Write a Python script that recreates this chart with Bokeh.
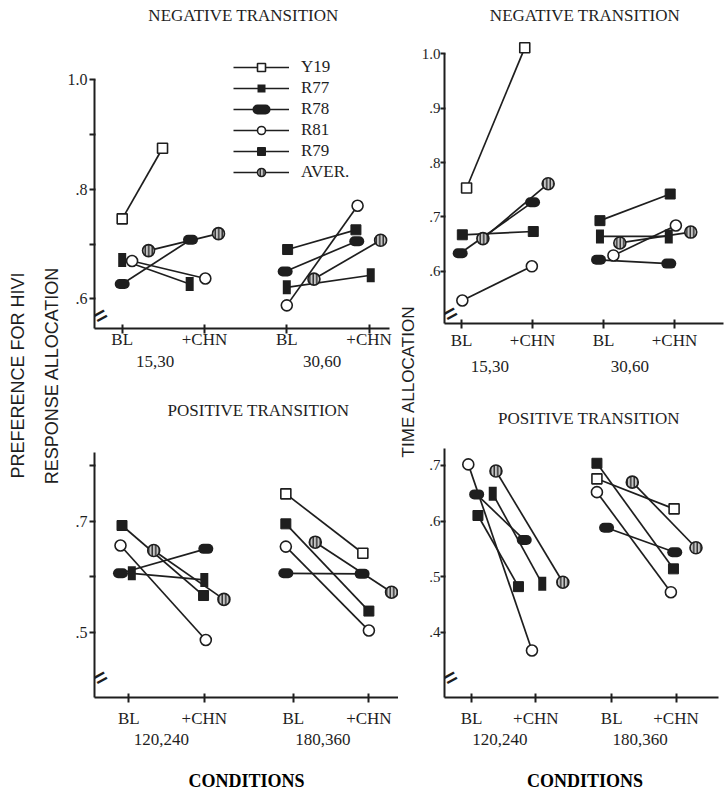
import math
from bokeh.plotting import figure
from bokeh.models import LinearAxis, FixedTicker, Range1d, Label, Legend, LegendItem
from bokeh.layouts import row, column
from bokeh.embed import file_html
from bokeh.resources import INLINE

nan = float("nan")

SUBJECTS = ["Y19", "R77", "R78", "R81", "R79", "AVER."]

# value order in every array: [BL grp1, +CHN grp1, BL grp2, +CHN grp2]
# NEGATIVE TRANSITION - response allocation (top left)
nr_Y19_x = [0.00, 0.49, nan, nan]
nr_Y19_y = [0.746, 0.875, nan, nan]
nr_R77_x = [0.00, 0.82, 2.00, 3.02]
nr_R77_y = [0.671, 0.627, 0.621, 0.643]
nr_R78_x = [0.00, 0.83, 1.98, 2.85]
nr_R78_y = [0.627, 0.708, 0.650, 0.705]
nr_R81_x = [0.12, 1.01, 2.00, 2.86]
nr_R81_y = [0.669, 0.637, 0.588, 0.770]
nr_R79_x = [nan, nan, 2.01, 2.84]
nr_R79_y = [nan, nan, 0.690, 0.726]
nr_AVE_x = [0.32, 1.17, 2.33, 3.14]
nr_AVE_y = [0.688, 0.719, 0.636, 0.707]

# NEGATIVE TRANSITION - time allocation (top right)
nt_Y19_x = [0.07, 0.89, nan, nan]
nt_Y19_y = [0.753, 1.011, nan, nan]
nt_R77_x = [nan, nan, 1.95, 2.92]
nt_R77_y = [nan, nan, 0.664, 0.664]
nt_R78_x = [-0.02, 1.00, 1.93, 2.92]
nt_R78_y = [0.633, 0.727, 0.621, 0.614]
nt_R81_x = [0.01, 0.99, 2.14, 3.02]
nt_R81_y = [0.546, 0.609, 0.629, 0.684]
nt_R79_x = [0.01, 1.01, 1.95, 2.94]
nt_R79_y = [0.667, 0.673, 0.693, 0.742]
nt_AVE_x = [0.30, 1.22, 2.23, 3.23]
nt_AVE_y = [0.660, 0.761, 0.652, 0.672]

# POSITIVE TRANSITION - response allocation (bottom left)
pr_Y19_x = [nan, nan, 2.08, 3.10]
pr_Y19_y = [nan, nan, 0.749, 0.642]
pr_R77_x = [0.04, 1.00, nan, nan]
pr_R77_y = [0.606, 0.594, nan, nan]
pr_R78_x = [-0.11, 1.02, 2.08, 3.09]
pr_R78_y = [0.606, 0.650, 0.606, 0.605]
pr_R81_x = [-0.11, 1.02, 2.08, 3.18]
pr_R81_y = [0.656, 0.486, 0.654, 0.503]
pr_R79_x = [-0.09, 0.99, 2.08, 3.18]
pr_R79_y = [0.692, 0.566, 0.695, 0.538]
pr_AVE_x = [0.33, 1.26, 2.47, 3.48]
pr_AVE_y = [0.647, 0.559, 0.662, 0.572]

# POSITIVE TRANSITION - time allocation (bottom right)
pt_Y19_x = [nan, nan, 1.95, 3.15]
pt_Y19_y = [nan, nan, 0.676, 0.622]
pt_R77_x = [0.33, 1.10, nan, nan]
pt_R77_y = [0.649, 0.487, nan, nan]
pt_R78_x = [0.08, 0.82, 2.10, 3.16]
pt_R78_y = [0.648, 0.566, 0.588, 0.544]
pt_R81_x = [-0.05, 0.94, 1.95, 3.10]
pt_R81_y = [0.702, 0.367, 0.652, 0.472]
pt_R79_x = [0.10, 0.73, 1.95, 3.14]
pt_R79_y = [0.610, 0.482, 0.704, 0.514]
pt_AVE_x = [0.38, 1.42, 2.50, 3.49]
pt_AVE_y = [0.690, 0.490, 0.670, 0.552]

# axes
cond_labels = ["BL", "+CHN", "BL", "+CHN"]
top_cond_x = [0, 1, 2, 3]
bottom_cond_x = [0, 1, 2.18, 3.18]
neg_groups = ["15,30", "30,60"]
pos_groups = ["120,240", "180,360"]
tl_group_x = [0.40, 2.43]
tr_group_x = [0.40, 2.37]
bl_group_x = [0.43, 2.57]
br_group_x = [0.44, 2.62]
tl_yticks = [0.6, 0.7, 0.8, 0.9, 1.0]
tl_ylabels = [".6", "", ".8", "", "1.0"]
tr_yticks = [0.6, 0.7, 0.8, 0.9, 1.0]
tr_ylabels = [".6", ".7", ".8", ".9", "1.0"]
bl_yticks = [0.5, 0.6, 0.7, 0.8]
bl_ylabels = [".5", "", ".7", ""]
br_yticks = [0.4, 0.5, 0.6, 0.7]
br_ylabels = [".4", ".5", ".6", ".7"]

SERIF = "Liberation Serif"
SANS = "Liberation Sans"
INK = "#1e1e1e"

MARKER_STYLE = {
    "Y19": dict(marker="square", size=10, fill_color="white", line_color=INK, line_width=1.6),
    "R77": dict(marker="dash", size=14, angle=math.pi / 2, line_color=INK, line_width=8, line_cap="butt"),
    "R78": dict(marker="dash", size=5, line_color=INK, line_width=10, line_cap="round"),
    "R81": dict(marker="circle", size=11, fill_color="white", line_color=INK, line_width=1.6),
    "R79": dict(marker="square", size=10, fill_color=INK, line_color=INK, line_width=1),
    "AVER.": dict(marker="circle", size=12, fill_color="#c4c4c4", line_color=INK, line_width=1.6,
                  hatch_pattern="|", hatch_color=INK, hatch_scale=3.5, hatch_weight=1.3),
}


def make_panel(fig_box, frame_box, xmap, ymap, series, yticks, ylabels, ytop, xticks,
               xaxis_end_px, group_x, group_labels, title, title_px, break_py,
               x_standoff, g_standoff, ytick_size="16px", ytick_out=5, ystand=2,
               cond_center_px=None, legend_loc=None):
    fl, ft, fr, fb = fig_box
    l, t, r, b = frame_box
    x0px, xunit = xmap
    yref, yrefpx, yunit = ymap

    def px2x(px):
        return (px - x0px) / xunit

    def py2y(py):
        return yref + (yrefpx - py) / yunit

    p = figure(width=fr - fl, height=fb - ft,
               x_range=Range1d(px2x(l), px2x(r)), y_range=Range1d(py2y(b), py2y(t)),
               x_axis_type=None, y_axis_type=None, toolbar_location=None,
               output_backend="svg", title=None)
    p.min_border_left = l - fl
    p.min_border_right = fr - r
    p.min_border_top = t - ft
    p.min_border_bottom = fb - b
    p.outline_line_color = None
    p.background_fill_color = "white"
    p.border_fill_color = "white"
    p.grid.visible = False

    # y axis
    yax = LinearAxis(ticker=FixedTicker(ticks=yticks),
                     major_label_overrides=dict(zip(yticks, ylabels)),
                     bounds=(p.y_range.start, ytop))
    yax.axis_line_width = 2
    yax.axis_line_color = INK
    yax.major_tick_line_width = 2
    yax.major_tick_line_color = INK
    yax.major_tick_out = ytick_out
    yax.major_tick_in = 1
    yax.minor_tick_out = 0
    yax.minor_tick_in = 0
    yax.major_label_standoff = ystand
    yax.major_label_text_font = SERIF
    yax.major_label_text_font_size = ytick_size
    yax.major_label_text_color = INK
    p.add_layout(yax, "left")

    # x axis with conditions
    xax = LinearAxis(ticker=FixedTicker(ticks=xticks),
                     major_label_overrides=dict(zip(xticks, cond_labels)),
                     bounds=(p.x_range.start, px2x(xaxis_end_px)))
    xax.axis_line_width = 2
    xax.axis_line_color = INK
    xax.major_tick_line_width = 2
    xax.major_tick_line_color = INK
    xax.major_tick_out = 5
    xax.major_tick_in = 4
    xax.minor_tick_out = 0
    xax.minor_tick_in = 0
    xax.major_label_standoff = x_standoff
    xax.major_label_text_font = SERIF
    xax.major_label_text_font_size = "17px"
    xax.major_label_text_color = INK
    p.add_layout(xax, "below")

    # second row: schedule groups (+ CONDITIONS)
    if cond_center_px is not None:
        gb = (p.x_range.start, 2 * px2x(cond_center_px) - p.x_range.start)
    else:
        gb = "auto"
    gax = LinearAxis(ticker=FixedTicker(ticks=group_x),
                     major_label_overrides=dict(zip(group_x, group_labels)),
                     bounds=gb)
    gax.axis_line_color = None
    gax.major_tick_line_color = None
    gax.major_tick_out = 0
    gax.major_tick_in = 0
    gax.minor_tick_out = 0
    gax.minor_tick_in = 0
    gax.major_label_standoff = g_standoff
    gax.major_label_text_font = SERIF
    gax.major_label_text_font_size = "17px"
    gax.major_label_text_color = INK
    if cond_center_px is not None:
        gax.axis_label = "CONDITIONS"
        gax.axis_label_text_font = SERIF
        gax.axis_label_text_font_style = "bold"
        gax.axis_label_text_font_size = "18px"
        gax.axis_label_text_color = "black"
        gax.axis_label_standoff = 23
    p.add_layout(gax, "below")

    # title
    p.add_layout(Label(x=px2x(title_px[0]), y=py2y(title_px[1]), text=title,
                       text_align="center", text_baseline="middle",
                       text_font=SERIF, text_font_size="17px", text_color=INK))
    # axis break mark (two slanted strokes next to the y axis)
    p.add_layout(Label(x=p.x_range.start, y=py2y(break_py), x_offset=6, text="=", angle=0.5,
                       text_align="center", text_baseline="middle",
                       text_font=SANS, text_font_style="bold",
                       text_font_size="22px", text_color=INK))

    segs = {}
    for key, xs, ys in series:
        segs[key] = p.segment(x0=[xs[0], xs[2]], y0=[ys[0], ys[2]],
                              x1=[xs[1], xs[3]], y1=[ys[1], ys[3]],
                              line_color=INK, line_width=1.7)
    scs = {}
    for key, xs, ys in series:
        scs[key] = p.scatter(x=xs, y=ys, **MARKER_STYLE[key])

    if legend_loc is not None:
        items = [LegendItem(label=k, renderers=[segs[k], scs[k]]) for k in SUBJECTS]
        lg = Legend(items=items, location=legend_loc, orientation="vertical",
                    glyph_width=56, glyph_height=20, label_height=20, spacing=1,
                    padding=0, margin=0, label_standoff=12,
                    label_text_font=SERIF, label_text_font_size="17px",
                    label_text_color=INK, border_line_alpha=0, background_fill_alpha=0)
        p.add_layout(lg)
    return p


tl = make_panel((62, 0, 398, 388), (94, 0, 398, 328), (121.7, 82.3), (1.0, 79.3, 547.5),
                [("Y19", nr_Y19_x, nr_Y19_y), ("R77", nr_R77_x, nr_R77_y),
                 ("R78", nr_R78_x, nr_R78_y), ("R81", nr_R81_x, nr_R81_y),
                 ("R79", nr_R79_x, nr_R79_y), ("AVER.", nr_AVE_x, nr_AVE_y)],
                tl_yticks, tl_ylabels, 1.0, top_cond_x, 389, tl_group_x, neg_groups,
                "NEGATIVE TRANSITION", (243, 15), 315, -4, 4, legend_loc=(139, 146))

tr = make_panel((418, 0, 725, 388), (441, 0, 725, 323), (458.3, 71.7), (1.0, 53.3, 543.5),
                [("Y19", nt_Y19_x, nt_Y19_y), ("R77", nt_R77_x, nt_R77_y),
                 ("R78", nt_R78_x, nt_R78_y), ("R81", nt_R81_x, nt_R81_y),
                 ("R79", nt_R79_x, nt_R79_y), ("AVER.", nt_AVE_x, nt_AVE_y)],
                tr_yticks, tr_ylabels, 1.0, top_cond_x, 723, tr_group_x, neg_groups,
                "NEGATIVE TRANSITION", (583, 15), 313, 2, 8,
                ytick_size="15px", ytick_out=4, ystand=0)

bl = make_panel((62, 388, 398, 793), (94, 388, 398, 697), (128.3, 75.5), (0.5, 631.7, 555.7),
                [("Y19", pr_Y19_x, pr_Y19_y), ("R77", pr_R77_x, pr_R77_y),
                 ("R78", pr_R78_x, pr_R78_y), ("R81", pr_R81_x, pr_R81_y),
                 ("R79", pr_R79_x, pr_R79_y), ("AVER.", pr_AVE_x, pr_AVE_y)],
                bl_yticks, bl_ylabels, 0.824, bottom_cond_x, 398, bl_group_x, pos_groups,
                "POSITIVE TRANSITION", (258, 410), 677, 6, 3, cond_center_px=215)

br = make_panel((418, 388, 725, 793), (441, 388, 725, 697), (468.3, 65.0), (0.4, 631.7, 555.7),
                [("Y19", pt_Y19_x, pt_Y19_y), ("R77", pt_R77_x, pt_R77_y),
                 ("R78", pt_R78_x, pt_R78_y), ("R81", pt_R81_x, pt_R81_y),
                 ("R79", pt_R79_x, pt_R79_y), ("AVER.", pt_AVE_x, pt_AVE_y)],
                br_yticks, br_ylabels, 0.730, bottom_cond_x, 718, br_group_x, pos_groups,
                "POSITIVE TRANSITION", (587, 418), 677, 6, 3,
                ytick_size="15px", ytick_out=4, ystand=0, cond_center_px=556)


def label_strip(width, labels, size):
    f = figure(width=width, height=793, x_range=Range1d(0, width), y_range=Range1d(0, 793),
               x_axis_type=None, y_axis_type=None, toolbar_location=None,
               output_backend="svg", min_border=0, title=None)
    f.outline_line_color = None
    f.grid.visible = False
    for text, x, y in labels:
        f.add_layout(Label(x=x, y=y, text=text, angle=math.pi / 2,
                           text_align="center", text_baseline="middle",
                           text_font=SANS, text_font_size=size, text_color=INK))
    return f


labL = label_strip(62, [("PREFERENCE FOR HIVI", 17, 418), ("RESPONSE ALLOCATION", 51, 418)], "18px")
labM = label_strip(20, [("TIME ALLOCATION", 10, 412)], "17px")

layout = row(labL, column(tl, bl), labM, column(tr, br))

with open("out.html", "w") as fh:
    fh.write(file_html(layout, INLINE))
